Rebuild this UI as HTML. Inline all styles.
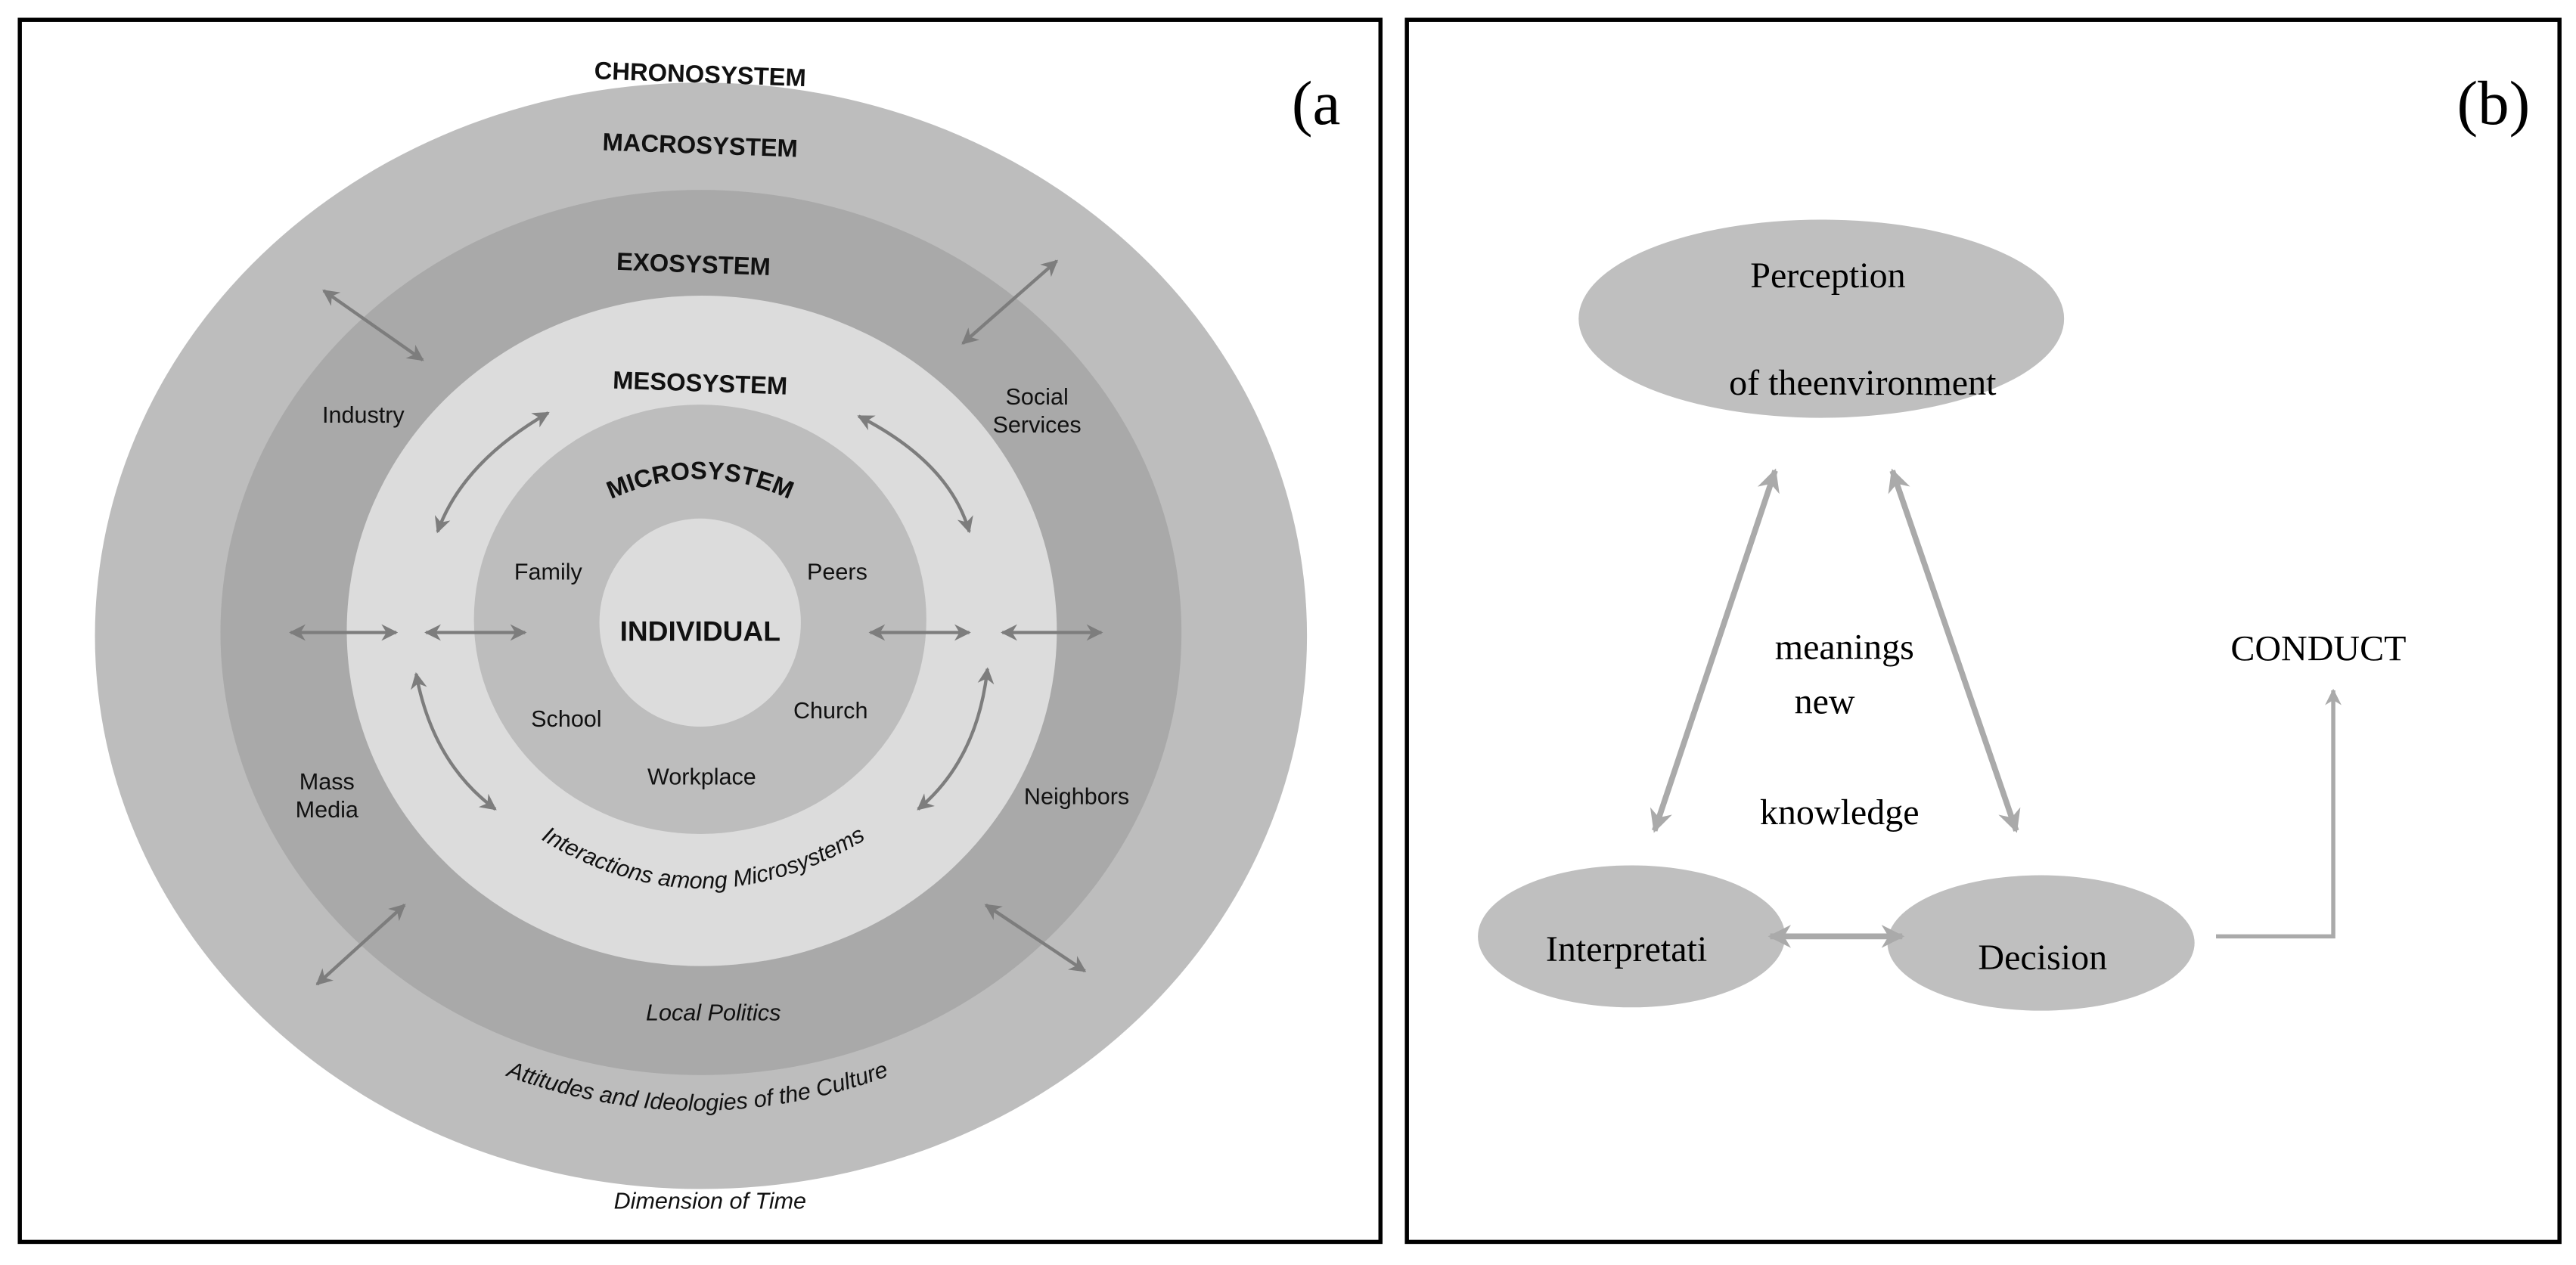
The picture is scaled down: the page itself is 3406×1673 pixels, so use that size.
<!DOCTYPE html>
<html><head><meta charset="utf-8"><style>
html,body{margin:0;padding:0;background:#fff;width:3406px;height:1673px;overflow:hidden}
svg{display:block}
.s{font-family:"Liberation Sans",sans-serif;fill:#111}
.b{font-family:"Liberation Sans",sans-serif;font-weight:bold;fill:#111}
.r{font-family:"Liberation Serif",serif;fill:#000}
</style></head><body>
<svg width="3406" height="1673" viewBox="0 0 1560 766" preserveAspectRatio="none" xmlns="http://www.w3.org/2000/svg">
<defs>
<marker id="ah" viewBox="0 0 10 10" refX="9" refY="5" markerWidth="5" markerHeight="5" orient="auto-start-reverse"><path d="M0,0 L10,5 L0,10 L3,5 z" fill="#7d7d7d"/></marker>
<marker id="bh" viewBox="0 0 10 10" refX="9" refY="5" markerWidth="4" markerHeight="4" orient="auto-start-reverse"><path d="M0,0 L10,5 L0,10 L3,5 z" fill="#aaa"/></marker>
<path id="arcMicro" d="M352,312 Q424,268 496,312"/>
<path id="arcInter" d="M312,498 Q425,578 540,498"/>
<path id="arcAtt" d="M290,645 Q422,700 555,645"/>
</defs>
<rect x="12" y="12" width="824" height="740" fill="none" stroke="#000" stroke-width="2.5"/>
<rect x="852" y="12" width="698" height="740" fill="none" stroke="#000" stroke-width="2.5"/>
<!-- panel a -->
<ellipse cx="424.5" cy="385" rx="367" ry="335" fill="#bdbdbd"/>
<ellipse cx="424.5" cy="383" rx="291" ry="268" fill="#a9a9a9"/>
<ellipse cx="425" cy="382" rx="215" ry="203" fill="#dcdcdc"/>
<ellipse cx="424" cy="375" rx="137" ry="130" fill="#bdbdbd"/>
<ellipse cx="424" cy="377" rx="61" ry="63" fill="#dcdcdc"/>
<g stroke="#7d7d7d" stroke-width="2" fill="none" marker-start="url(#ah)" marker-end="url(#ah)">
<line x1="196" y1="176" x2="256" y2="218"/>
<line x1="640" y1="158" x2="583" y2="208"/>
<line x1="176" y1="383" x2="240" y2="383"/>
<line x1="258" y1="383" x2="318" y2="383"/>
<line x1="527" y1="383" x2="587" y2="383"/>
<line x1="607" y1="383" x2="667" y2="383"/>
<path d="M332,250 Q280,280 265,322"/>
<path d="M520,252 Q575,280 587,322"/>
<path d="M252,408 Q262,462 300,490"/>
<path d="M598,405 Q592,460 556,490"/>
<line x1="245" y1="548" x2="192" y2="596"/>
<line x1="597" y1="548" x2="657" y2="588"/>
</g>
<text class="b" x="424" y="50" font-size="15" text-anchor="middle" transform="rotate(2 424 45)">CHRONOSYSTEM</text>
<text class="b" x="424" y="93" font-size="15" text-anchor="middle" transform="rotate(2 424 88)">MACROSYSTEM</text>
<text class="b" x="420" y="165" font-size="15" text-anchor="middle" transform="rotate(2 420 160)">EXOSYSTEM</text>
<text class="b" x="424" y="237" font-size="15" text-anchor="middle" transform="rotate(2 424 232)">MESOSYSTEM</text>
<text class="b" font-size="15" text-anchor="middle"><textPath href="#arcMicro" startOffset="50%">MICROSYSTEM</textPath></text>
<text class="b" x="424" y="388" font-size="17" text-anchor="middle">INDIVIDUAL</text>
<g class="s" font-size="14" text-anchor="middle">
<text x="332" y="351">Family</text>
<text x="507" y="351">Peers</text>
<text x="343" y="440">School</text>
<text x="503" y="435">Church</text>
<text x="425" y="475">Workplace</text>
<text x="220" y="256">Industry</text>
<text x="628" y="245">Social</text>
<text x="628" y="262">Services</text>
<text x="198" y="478">Mass</text>
<text x="198" y="495">Media</text>
<text x="652" y="487">Neighbors</text>
<text x="432" y="618" font-style="italic">Local Politics</text>
<text x="430" y="732" font-style="italic">Dimension of Time</text>
</g>
<text class="s" font-size="14" font-style="italic" text-anchor="middle"><textPath href="#arcInter" startOffset="50%">Interactions among Microsystems</textPath></text>
<text class="s" font-size="14" font-style="italic" text-anchor="middle"><textPath href="#arcAtt" startOffset="50%">Attitudes and Ideologies of the Culture</textPath></text>
<text class="r" x="797" y="75" font-size="38" text-anchor="middle">(a</text>
<!-- panel b -->
<text class="r" x="1510" y="75" font-size="38" text-anchor="middle">(b)</text>
<ellipse cx="1103" cy="193" rx="147" ry="60" fill="#bfbfbf"/>
<ellipse cx="988" cy="567" rx="93" ry="43" fill="#bfbfbf"/>
<ellipse cx="1236" cy="571" rx="93" ry="41" fill="#bfbfbf"/>
<g stroke="#aaa" stroke-width="3.5" fill="none" marker-start="url(#bh)" marker-end="url(#bh)">
<line x1="1075" y1="285" x2="1002" y2="503"/>
<line x1="1146" y1="285" x2="1221" y2="503"/>
<line x1="1072" y1="567" x2="1152" y2="567"/>
</g>
<path d="M1342,567 L1413,567 L1413,418" stroke="#aaa" stroke-width="2.5" fill="none" marker-end="url(#bh)"/>
<g class="r" font-size="22" text-anchor="middle">
<text x="1107" y="174">Perception</text>
<text x="1128" y="239">of theenvironment</text>
<text x="985" y="582">Interpretati</text>
<text x="1237" y="587">Decision</text>
<text x="1117" y="399">meanings</text>
<text x="1105" y="432">new</text>
<text x="1114" y="499">knowledge</text>
<text x="1404" y="400">CONDUCT</text>
</g>
</svg>
</body></html>
